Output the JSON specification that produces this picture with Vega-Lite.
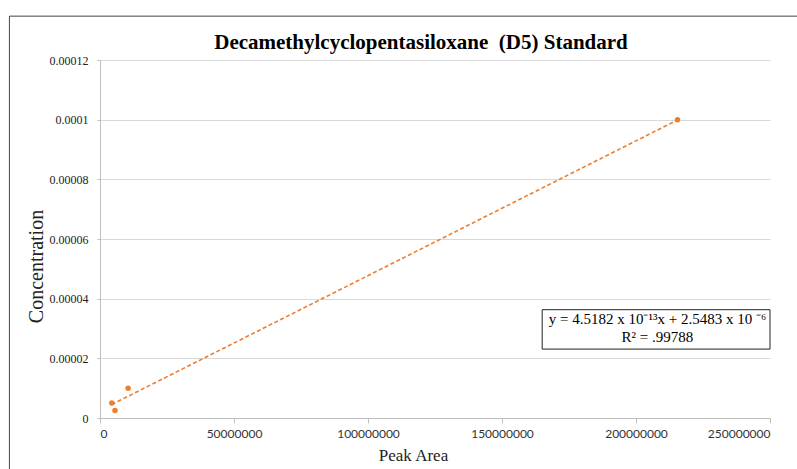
{
  "$schema": "https://vega.github.io/schema/vega-lite/v6.json",
  "autosize": {"type": "none"},
  "width": 670,
  "height": 358,
  "padding": {"left": 100, "top": 60, "right": 27, "bottom": 51},
  "background": "white",
  "config": {"view": {"stroke": null}},
  "title": {
    "text": "Decamethylcyclopentasiloxane \u00a0(D5) Standard",
    "font": "Liberation Serif",
    "fontSize": 21,
    "fontWeight": "bold",
    "color": "#000000",
    "offset": 12,
    "dx": -14,
    "dy": 49,
    "anchor": "middle"
  },
  "datasets": {
    "pts": [
      {"area": 4400000, "conc": 0.000005},
      {"area": 5600000, "conc": 0.0000025},
      {"area": 10500000, "conc": 0.00001},
      {"area": 215500000, "conc": 0.0001}
    ],
    "trend": [
      {"area": 4400000, "conc": 0.000004536},
      {"area": 215500000, "conc": 0.0000999}
    ],
    "box": [
      {"x1": 165000000, "x2": 250000000, "y1": 0.0000231, "y2": 0.0000363}
    ],
    "frame": [
      {"x1": -33800000, "x2": 300000000, "y1": 0.0001347, "y2": -0.00003}
    ],
    "eq": [
      {"area": 208000000, "conc": 0.0000332, "label": ["y = 4.5182 x 10⁻¹³x + 2.5483 x 10 ⁻⁶", "R² = .99788"]}
    ]
  },
  "layer": [
    {
      "data": {"name": "frame"},
      "mark": {"type": "rect", "fill": null, "stroke": "#444444", "strokeWidth": 1, "clip": false},
      "encoding": {
        "x": {"field": "x1", "type": "quantitative", "scale": {"domain": [0, 250000000], "nice": false}},
        "x2": {"field": "x2"},
        "y": {"field": "y1", "type": "quantitative", "scale": {"domain": [0, 0.00012], "nice": false}},
        "y2": {"field": "y2"}
      }
    },
    {
      "data": {"name": "trend"},
      "mark": {"type": "line", "color": "#ED7D31", "strokeWidth": 1.6, "strokeDash": [4, 2.5]},
      "encoding": {
        "x": {
          "field": "area", "type": "quantitative",
          "scale": {"domain": [0, 250000000], "nice": false},
          "axis": {
            "title": "Peak Area",
            "titleFont": "Liberation Serif",
            "titleFontSize": 17,
            "titleFontWeight": "normal",
            "titleColor": "#222222",
            "titleX": 313,
            "titleY": 37,
            "titleAlign": "center",
            "titleBaseline": "middle",
            "values": [0, 50000000, 100000000, 150000000, 200000000, 250000000],
            "format": "d",
            "labelFont": "Lato",
            "labelFontSize": 12,
            "labelColor": "#333333",
            "labelPadding": 5,
            "labelOverlap": false,
            "grid": false,
            "domainColor": "#bfbfbf",
            "tickColor": "#bfbfbf",
            "tickSize": 5
          }
        },
        "y": {
          "field": "conc", "type": "quantitative",
          "scale": {"domain": [0, 0.00012], "nice": false},
          "axis": {
            "title": "Concentration",
            "titleFont": "Liberation Serif",
            "titleFontSize": 20,
            "titleFontWeight": "normal",
            "titleColor": "#222222",
            "titleX": -64,
            "titleY": 206,
            "titleAlign": "center",
            "titleBaseline": "middle",
            "values": [0, 0.00002, 0.00004, 0.00006, 0.00008, 0.0001, 0.00012],
            "labelExpr": "datum.value == 0 ? '0' : format(datum.value, '.5~f')",
            "labelFont": "Liberation Serif",
            "labelFontSize": 12,
            "labelColor": "#222222",
            "labelPadding": 9,
            "grid": true,
            "gridColor": "#d9d9d9",
            "domainColor": "#bfbfbf",
            "tickColor": "#bfbfbf",
            "tickSize": 3
          }
        }
      }
    },
    {
      "data": {"name": "pts"},
      "mark": {"type": "circle", "color": "#ED7D31", "opacity": 1, "size": 30},
      "encoding": {
        "x": {"field": "area", "type": "quantitative"},
        "y": {"field": "conc", "type": "quantitative"}
      }
    },
    {
      "data": {"name": "box"},
      "mark": {"type": "rect", "fill": "white", "stroke": "#222222", "strokeWidth": 1, "clip": false},
      "encoding": {
        "x": {"field": "x1", "type": "quantitative"},
        "x2": {"field": "x2"},
        "y": {"field": "y1", "type": "quantitative"},
        "y2": {"field": "y2"}
      }
    },
    {
      "data": {"name": "eq"},
      "mark": {"type": "text", "font": "Liberation Serif", "fontSize": 15, "lineHeight": 18, "align": "center", "baseline": "middle", "color": "#000000"},
      "encoding": {
        "x": {"field": "area", "type": "quantitative"},
        "y": {"field": "conc", "type": "quantitative"},
        "text": {"field": "label"}
      }
    }
  ]
}
